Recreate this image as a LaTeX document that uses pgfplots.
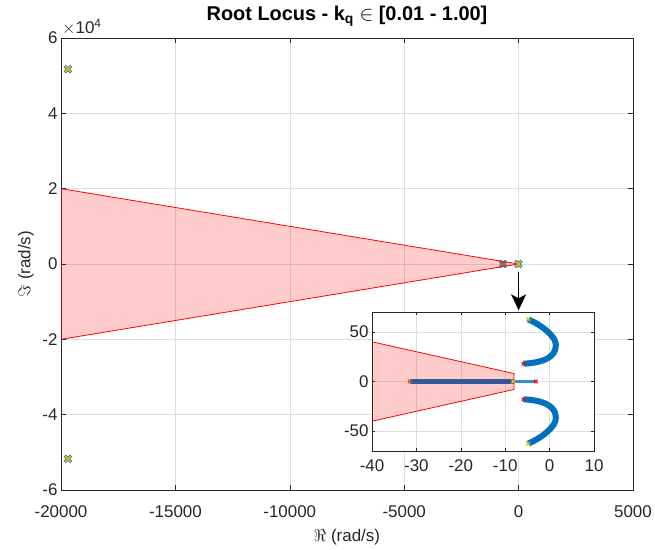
\documentclass[border=0pt]{standalone}
\usepackage{pgfplots}
\pgfplotsset{compat=1.18}
\usepackage{fontspec}
\setmainfont{Liberation Sans}
\usetikzlibrary{arrows.meta}
\definecolor{mblue}{rgb}{0,0.447,0.741}
\definecolor{dblue}{rgb}{0.2,0.35,0.6}
\definecolor{morange}{rgb}{0.85,0.325,0.098}
\definecolor{myellow}{rgb}{0.929,0.694,0.125}
\definecolor{axgray}{rgb}{0.15,0.15,0.15}
\pgfplotsset{
  mstyle/.style={
    scale only axis, anchor=south west,
    scaled ticks=false,
    tick align=inside, major tick length=5bp,
    grid=major, grid style={black!13, line width=0.5bp},
    axis line style={axgray, line width=0.6bp},
    tick style={axgray, line width=0.6bp},
    ticklabel style={font=\fontsize{17}{20}\selectfont, text=axgray},
  }
}
\begin{document}
\begin{tikzpicture}[font=\fontsize{17}{20}\selectfont]
\path[use as bounding box] (-61bp,-60bp) rectangle (594bp,490bp);
\begin{axis}[mstyle,
  at={(0,0)}, width=572bp, height=452bp,
  xmin=-20000, xmax=5000, ymin=-60000, ymax=60000,
  xtick={-20000,-15000,-10000,-5000,0,5000},
  xticklabels={-20000,-15000,-10000,-5000,0,5000},
  ytick={-60000,-40000,-20000,0,20000,40000,60000},
  yticklabels={-6,-4,-2,0,2,4,6},
  xticklabel style={yshift=-12bp},
  xlabel={$\Re$ (rad/s)}, ylabel={$\Im$ (rad/s)},
  xlabel style={at={(axis description cs:0.5,-0.104)}, anchor=center, text=axgray},
  ylabel style={at={(axis description cs:-0.0612,0.5)}, anchor=center, text=axgray},
  title={\textbf{Root Locus - k\textsubscript{q} $\in$ [0.01 - 1.00]}},
  title style={at={(axis description cs:0.5,1.0265)}, anchor=base, font=\fontsize{20}{24}\selectfont},
  clip mode=individual,
]
\addplot[fill=red, fill opacity=0.2, draw=red, line width=0.8bp]
  coordinates {(-20000,20000) (-8,8) (-8,-8) (-20000,-20000)} -- cycle;
\addplot[only marks, mark=x, mark size=4.5bp, mblue, line width=3bp]
  coordinates {(-19700,51760) (-19700,-51760) (-686,0) (-8,0)};
\addplot[only marks, mark=x, mark size=4bp, morange, line width=1.8bp]
  coordinates {(-686,0)};
\addplot[only marks, mark=x, mark size=4bp, myellow, line width=1.8bp]
  coordinates {(-19700,51760) (-19700,-51760) (-8,0)};
\draw[-{Stealth[length=16bp, width=15bp, inset=4bp]}, line width=1.3bp, black]
  (axis cs:0,-2100) -- (axis cs:0,-12300);
\node[anchor=south west, inner sep=0pt, text=axgray] at (rel axis cs:0,1) [yshift=3bp, xshift=1bp] {$\times$10\textsuperscript{4}};
\end{axis}
\begin{axis}[mstyle,
  at={(311bp,39bp)}, width=222bp, height=139bp,
  xmin=-40, xmax=10, ymin=-70, ymax=70,
  xtick={-40,-30,-20,-10,0,10},
  xticklabels={-40,-30,-20,-10,0,10},
  xticklabel style={yshift=-5bp},
  ytick={-50,0,50}, yticklabels={-50,0,50},
  axis background/.style={fill=white},
  major tick length=3bp,
]
\addplot[fill=red, fill opacity=0.2, draw=red, line width=0.8bp]
  coordinates {(-42,42) (-8,8) (-8,-8) (-42,-42)} -- cycle;
\addplot[mblue, line width=6bp, smooth]
  coordinates {(-4.8,62.6) (-3.0,58.5) (-1.3,53.5) (0.2,47.5) (1.1,42) (1.4,37) (1.2,31.5) (0.5,26.5) (-0.8,22.5) (-2.6,19.8) (-4.3,18.5) (-5.9,17.9)};
\addplot[mblue, line width=6bp, smooth]
  coordinates {(-4.8,-62.6) (-3.0,-58.5) (-1.3,-53.5) (0.2,-47.5) (1.1,-42) (1.4,-37) (1.2,-31.5) (0.5,-26.5) (-0.8,-22.5) (-2.6,-19.8) (-4.3,-18.5) (-5.9,-17.9)};
\addplot[mblue!80, line width=2.5bp] coordinates {(-8,0) (-3.1,0)};
\addplot[dblue, line width=4.5bp] coordinates {(-31.5,0) (-8,0)};
\addplot[only marks, mark=x, mark size=2.5bp, morange, line width=1.3bp]
  coordinates {(-31.5,0) (-8.2,0)};
\addplot[only marks, mark=x, mark size=2.5bp, myellow, line width=1.3bp]
  coordinates {(-4.8,62.6) (-4.8,-62.6) (-8.2,0)};
\addplot[only marks, mark=x, mark size=2.5bp, red, line width=1.1bp]
  coordinates {(-5.9,17.9) (-5.9,-17.9) (-3.1,0)};
\end{axis}
\end{tikzpicture}
\end{document}
